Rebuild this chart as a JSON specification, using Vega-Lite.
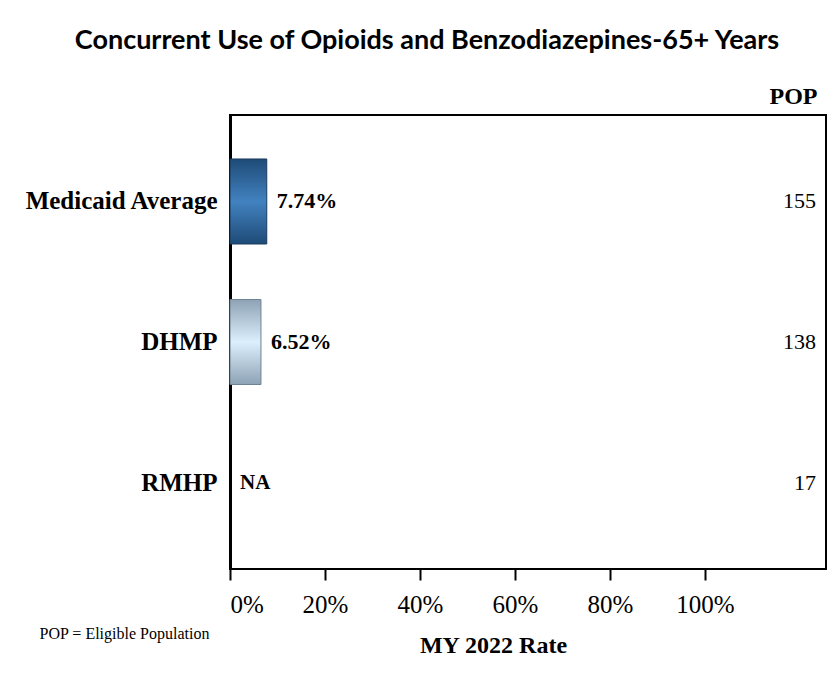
{
  "$schema": "https://vega.github.io/schema/vega-lite/v6.json",
  "autosize": {"type": "none"},
  "padding": {"left": 230, "top": 115, "right": 7, "bottom": 104},
  "width": 596,
  "height": 454,
  "background": "white",
  "title": {
    "text": "Concurrent Use of Opioids and Benzodiazepines-65+ Years",
    "font": "Lato",
    "fontSize": 27,
    "fontWeight": "bold",
    "color": "black",
    "anchor": "middle",
    "frame": "group",
    "dx": -101,
    "offset": 29
  },
  "data": {
    "values": [
      {"plan": "Medicaid Average", "rate": 0.0774, "pop": 155},
      {"plan": "DHMP", "rate": 0.0652, "pop": 138},
      {"plan": "RMHP", "rate": null, "pop": 17}
    ]
  },
  "config": {
    "view": {"stroke": "black", "strokeWidth": 2},
    "font": "Liberation Serif, Times New Roman, serif"
  },
  "resolve": {"scale": {"x": "independent"}},
  "layer": [
    {
      "encoding": {
        "y": {
          "field": "plan",
          "type": "nominal",
          "sort": null,
          "scale": {"paddingInner": 0.395, "paddingOuter": 0.313},
          "axis": {
            "title": "POP = Eligible Population",
            "titleFont": "Liberation Serif, Times New Roman, serif",
            "titleFontSize": 16,
            "titleFontWeight": "normal",
            "titleColor": "black",
            "titleAngle": 0,
            "titleAlign": "center",
            "titleBaseline": "middle",
            "titleX": -106,
            "titleY": 518,
            "labelFont": "Liberation Serif, Times New Roman, serif",
            "labelFontSize": 25,
            "labelFontWeight": "bold",
            "labelColor": "black",
            "labelPadding": 13,
            "labelLimit": 300,
            "ticks": false,
            "domainColor": "black",
            "domainWidth": 3
          }
        }
      },
      "layer": [
        {
          "transform": [{"filter": "datum.plan === 'Medicaid Average'"}],
          "mark": {
            "type": "bar",
            "stroke": "#1B3A5C",
            "strokeWidth": 1,
            "color": {
              "gradient": "linear", "x1": 0, "y1": 0, "x2": 0, "y2": 1,
              "stops": [
                {"offset": 0, "color": "#1E4B77"},
                {"offset": 0.5, "color": "#4282C0"},
                {"offset": 1, "color": "#1E4B77"}
              ]
            }
          },
          "encoding": {
            "x": {
              "field": "rate",
              "type": "quantitative",
              "scale": {"domain": [0, 1.255], "nice": false, "zero": true},
              "axis": {
                "values": [0, 0.2, 0.4, 0.6, 0.8, 1],
                "format": ".0%",
                "grid": false,
                "domain": false,
                "tickColor": "black",
                "tickWidth": 2,
                "tickSize": 11,
                "labelFont": "Liberation Serif, Times New Roman, serif",
                "labelFontSize": 25,
                "labelColor": "black",
                "labelPadding": 12,
                "title": "MY 2022 Rate",
                "titleFont": "Liberation Serif, Times New Roman, serif",
                "titleFontSize": 24,
                "titleFontWeight": "bold",
                "titleColor": "black",
                "titleX": 263,
                "titleY": 76,
                "titleBaseline": "middle"
              }
            }
          }
        },
        {
          "transform": [{"filter": "datum.plan === 'DHMP'"}],
          "mark": {
            "type": "bar",
            "stroke": "#6F8394",
            "strokeWidth": 1,
            "color": {
              "gradient": "linear", "x1": 0, "y1": 0, "x2": 0, "y2": 1,
              "stops": [
                {"offset": 0, "color": "#8DA2B4"},
                {"offset": 0.5, "color": "#DCEFFD"},
                {"offset": 1, "color": "#8DA2B4"}
              ]
            }
          },
          "encoding": {
            "x": {"field": "rate", "type": "quantitative"}
          }
        },
        {
          "transform": [{"filter": "isValid(datum.rate)"}],
          "mark": {
            "type": "text",
            "align": "left",
            "baseline": "middle",
            "dx": 10,
            "font": "Liberation Serif, Times New Roman, serif",
            "fontSize": 22,
            "fontWeight": "bold",
            "color": "black"
          },
          "encoding": {
            "x": {"field": "rate", "type": "quantitative"},
            "text": {"field": "rate", "type": "quantitative", "format": ".2%"}
          }
        },
        {
          "transform": [{"filter": "!isValid(datum.rate)"}],
          "mark": {
            "type": "text",
            "align": "left",
            "baseline": "middle",
            "dx": 10,
            "font": "Liberation Serif, Times New Roman, serif",
            "fontSize": 21,
            "fontWeight": "bold",
            "color": "black",
            "text": "NA"
          },
          "encoding": {
            "x": {"datum": 0, "type": "quantitative"}
          }
        }
      ]
    },
    {
      "mark": {
        "type": "text",
        "align": "right",
        "baseline": "middle",
        "font": "Liberation Serif, Times New Roman, serif",
        "fontSize": 22,
        "color": "black"
      },
      "encoding": {
        "y": {"field": "plan", "type": "nominal", "sort": null},
        "x": {
          "datum": 1.234,
          "type": "quantitative",
          "scale": {"domain": [0, 1.255], "nice": false, "zero": true},
          "axis": {
            "orient": "top",
            "domain": false,
            "ticks": false,
            "labels": false,
            "grid": false,
            "title": "POP",
            "titleFont": "Liberation Serif, Times New Roman, serif",
            "titleFontSize": 24,
            "titleFontWeight": "bold",
            "titleColor": "black",
            "titleX": 587,
            "titleY": -19,
            "titleAlign": "right",
            "titleBaseline": "middle"
          }
        },
        "text": {"field": "pop", "type": "quantitative"}
      }
    }
  ]
}
